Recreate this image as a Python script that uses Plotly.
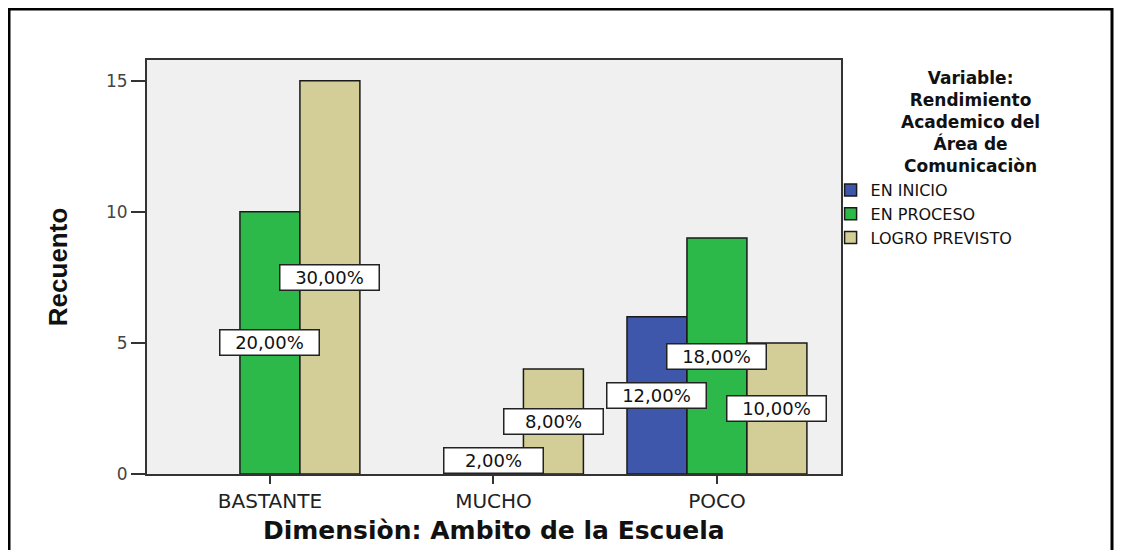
import plotly.graph_objects as go

categories = ["BASTANTE", "MUCHO", "POCO"]
en_inicio = [0, 0, 6]
en_proceso = [10, 1, 9]
logro_previsto = [15, 4, 5]

series_names = ["EN INICIO", "EN PROCESO", "LOGRO PREVISTO"]
series_values = [en_inicio, en_proceso, logro_previsto]
series_colors = ["#3E57AB", "#2DB84A", "#D3CE97"]

y_ticks = [0, 5, 10, 15]
legend_title = "Variable:<br>Rendimiento<br>Academico del<br>Área de<br>Comunicaciòn"

total = sum(sum(v) for v in series_values)
bargap = 0.195
bar_w = (1 - bargap) / len(series_values)

fig = go.Figure()

for name, vals, color in zip(series_names, series_values, series_colors):
    fig.add_trace(go.Bar(
        x=categories, y=[v if v else None for v in vals], name=name,
        marker=dict(color=color, line=dict(color="#1a1a1a", width=1.5)),
    ))

# percentage labels in white boxes, centred on each bar at half height
annotations = []
for i, vals in enumerate(series_values):
    for j, v in enumerate(vals):
        if v == 0:
            continue
        pct = f"{v / total * 100:.2f}".replace(".", ",") + "%"
        annotations.append(dict(
            x=j + (i - 1) * bar_w, y=v / 2, xref="x", yref="y",
            text=pct, showarrow=False,
            font=dict(family="DejaVu Sans", size=18, color="#111"),
            bgcolor="white", bordercolor="#222", borderwidth=1.5,
            width=94, height=20, borderpad=2,
        ))

annotations.append(dict(
    x=1.187, y=(474 - 66) / 414, xref="paper", yref="paper",
    text=f"<b>{legend_title}</b>", showarrow=False, xanchor="center", yanchor="top",
    align="center",
    font=dict(family="DejaVu Sans", size=17, color="#111"),
))

annotations.append(dict(
    x=-0.128, y=0.5, xref="paper", yref="paper", text="<b>Recuento</b>",
    textangle=-90, showarrow=False, xanchor="center", yanchor="middle",
    font=dict(family="Liberation Sans Narrow, Liberation Sans, Arial", size=26, color="#111"),
))
annotations.append(dict(
    x=0.5, y=(474 - 530) / 414, xref="paper", yref="paper",
    text="<b>Dimensiòn: Ambito de la Escuela</b>", showarrow=False,
    xanchor="center", yanchor="middle",
    font=dict(family="DejaVu Sans", size=25, color="#111"),
))

fig.update_layout(
    width=1106, height=542,
    margin=dict(l=139, r=273, t=52, b=76),
    paper_bgcolor="white", plot_bgcolor="#F0F0F0",
    barmode="group", bargap=bargap, bargroupgap=0,
    annotations=annotations,
    showlegend=True,
    legend=dict(
        x=0.985, y=(474 - 173) / 414, xanchor="left", yanchor="top",
        font=dict(family="DejaVu Sans", size=16, color="#111"),
        bgcolor="rgba(0,0,0,0)", tracegroupgap=0, itemwidth=30,
    ),
    xaxis=dict(
        range=[-0.55, 2.555], showgrid=False, zeroline=False,
        showline=True, linecolor="#333", linewidth=2, mirror=True,
        ticks="outside", ticklen=8, tickcolor="#333", tickwidth=2,
        tickfont=dict(family="DejaVu Sans", size=20, color="#222"),
    ),
    yaxis=dict(
        range=[0, 15.79], tickvals=y_ticks, showgrid=False, zeroline=False,
        showline=True, linecolor="#333", linewidth=2, mirror=True,
        ticks="outside", ticklen=14, tickcolor="#333", tickwidth=2,
        tickfont=dict(family="DejaVu Sans", size=17, color="#444"),
    ),
    shapes=[dict(
        type="rect", xref="paper", yref="paper",
        x0=(9 - 147) / 694, x1=(1112 - 147) / 694,
        y0=(474 - 570) / 414, y1=(474 - 9) / 414,
        line=dict(color="black", width=3), fillcolor="rgba(0,0,0,0)", layer="below",
    )],
)

fig.write_html("out.html")
